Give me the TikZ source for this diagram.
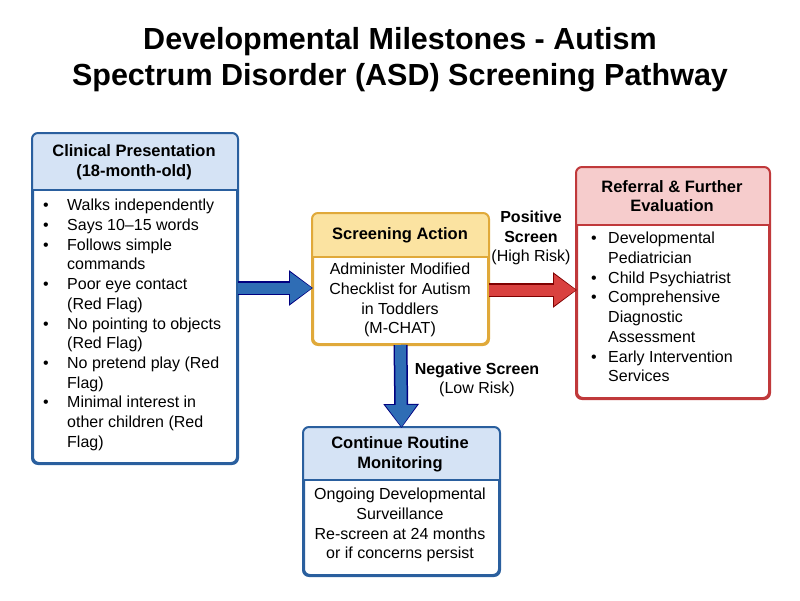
\documentclass[tikz,border=0pt]{standalone}
\usepackage{fontspec}
\setmainfont{Liberation Sans}
\usetikzlibrary{arrows.meta,calc}
\definecolor{bB}{HTML}{2A5F9E}\definecolor{bF}{HTML}{D5E3F5}
\definecolor{yB}{HTML}{E0A93A}\definecolor{yF}{HTML}{FBE3A1}
\definecolor{rB}{HTML}{C0393B}\definecolor{rF}{HTML}{F6CCCC}
\definecolor{aB}{HTML}{2F6DB5}\definecolor{aR}{HTML}{D9413F}
\begin{document}
\begin{tikzpicture}[x=1pt,y=-1pt,
  box/.style={draw=#1,line width=2pt,rounded corners=6pt,fill=white,anchor=north west,inner sep=0pt},
  txt/.style={font=\fontsize{16}{19.7}\selectfont,align=left,anchor=north west,inner sep=0pt},
  ctxt/.style={font=\fontsize{16}{19.7}\selectfont,align=center,anchor=north,inner sep=0pt},
  htxt/.style={font=\fontsize{16.5}{19.7}\selectfont\bfseries,align=center,inner sep=0pt},
  barrow/.style={line width=11pt,-{Triangle[length=22pt,width=30pt]},draw=#1}]
\useasboundingbox (0,0) rectangle (800,600);
\node[font=\fontsize{30.5}{36}\selectfont\bfseries,align=center] (title) at (400,60) {Developmental Milestones - Autism\\Spectrum Disorder (ASD) Screening Pathway};
\newcommand\hdrbox[4]{% name, fill, border, header height
 \begin{scope}\clip[rounded corners=6pt] (#1.north west) rectangle (#1.south east);
 \fill[#2] (#1.north west) rectangle ($(#1.north east)+(0,#4)$);\end{scope}
 \draw[#3,line width=2pt] ($(#1.north west)+(0,#4)$) -- ($(#1.north east)+(0,#4)$);
 \draw[#3,line width=2pt,rounded corners=6pt] (#1.north west) rectangle (#1.south east);}
\node[box=bB,minimum width=204pt,minimum height=329pt] (L) at (32,133) {};
\hdrbox{L}{bF}{bB}{57}
\node[box=yB,minimum width=175pt,minimum height=130pt] (M) at (312,213) {};
\hdrbox{M}{yF}{yB}{44}
\node[box=rB,minimum width=192pt,minimum height=230pt] (R) at (576,167) {};
\hdrbox{R}{rF}{rB}{58}
\node[box=bB,minimum width=195pt,minimum height=147pt] (B) at (303,427) {};
\hdrbox{B}{bF}{bB}{53}
\node[htxt] (Lh) at (134,162) {Clinical Presentation\\(18-month-old)};
\node[htxt] (Mh) at (400,235) {Screening Action};
\node[htxt] (Rh) at (672,196) {Referral \& Further\\Evaluation};
\node[htxt] (Bh) at (400,454) {Continue Routine\\Monitoring};
\def\b{\makebox[24pt][l]{\textbullet}}\def\c{\hspace*{24pt}}
\node[txt] (Lt) at (43,199) {\b Walks independently\\\b Says 10–15 words\\\b Follows simple\\\c commands\\\b Poor eye contact\\\c (Red Flag)\\\b No pointing to objects\\\c (Red Flag)\\\b No pretend play (Red\\\c Flag)\\\b Minimal interest in\\\c other children (Red\\\c Flag)};
\node[ctxt] (Mt) at (400,263) {Administer Modified\\Checklist for Autism\\in Toddlers\\(M-CHAT)};
\def\b{\makebox[17pt][l]{\textbullet}}\def\c{\hspace*{17pt}}
\node[txt] (Rt) at (591,232) {\b Developmental\\\c Pediatrician\\\b Child Psychiatrist\\\b Comprehensive\\\c Diagnostic\\\c Assessment\\\b Early Intervention\\\c Services};
\node[ctxt] (Bt) at (400,488) {Ongoing Developmental\\Surveillance\\Re-screen at 24 months\\or if concerns persist};
\draw[barrow=blue!50!black,line width=14pt,-{Triangle[length=24pt,width=34pt]}] (L.east|-0,288) -- ($(M.west|-0,288)+(1,0)$);
\draw[barrow=aB] (L.east|-0,288) -- (M.west|-0,288);
\draw[barrow=red!50!black,line width=14pt,-{Triangle[length=24pt,width=34pt]}] (M.east|-0,290) -- ($(R.west|-0,290)+(1,0)$);
\draw[barrow=aR] (M.east|-0,290) -- (R.west|-0,290);
\draw[barrow=blue!50!black,line width=14pt,-{Triangle[length=24pt,width=34pt]}] (M.south) -- ($(B.north)+(0,1)$);
\draw[barrow=aB] (M.south) -- (B.north);
\node[font=\fontsize{16}{19.7}\selectfont,align=center] (pl) at (531,238) {\textbf{Positive}\\\textbf{Screen}\\(High Risk)};
\node[font=\fontsize{16}{19.7}\selectfont,align=center] (nl) at (477,380) {\textbf{Negative Screen}\\(Low Risk)};
\end{tikzpicture}
\end{document}
